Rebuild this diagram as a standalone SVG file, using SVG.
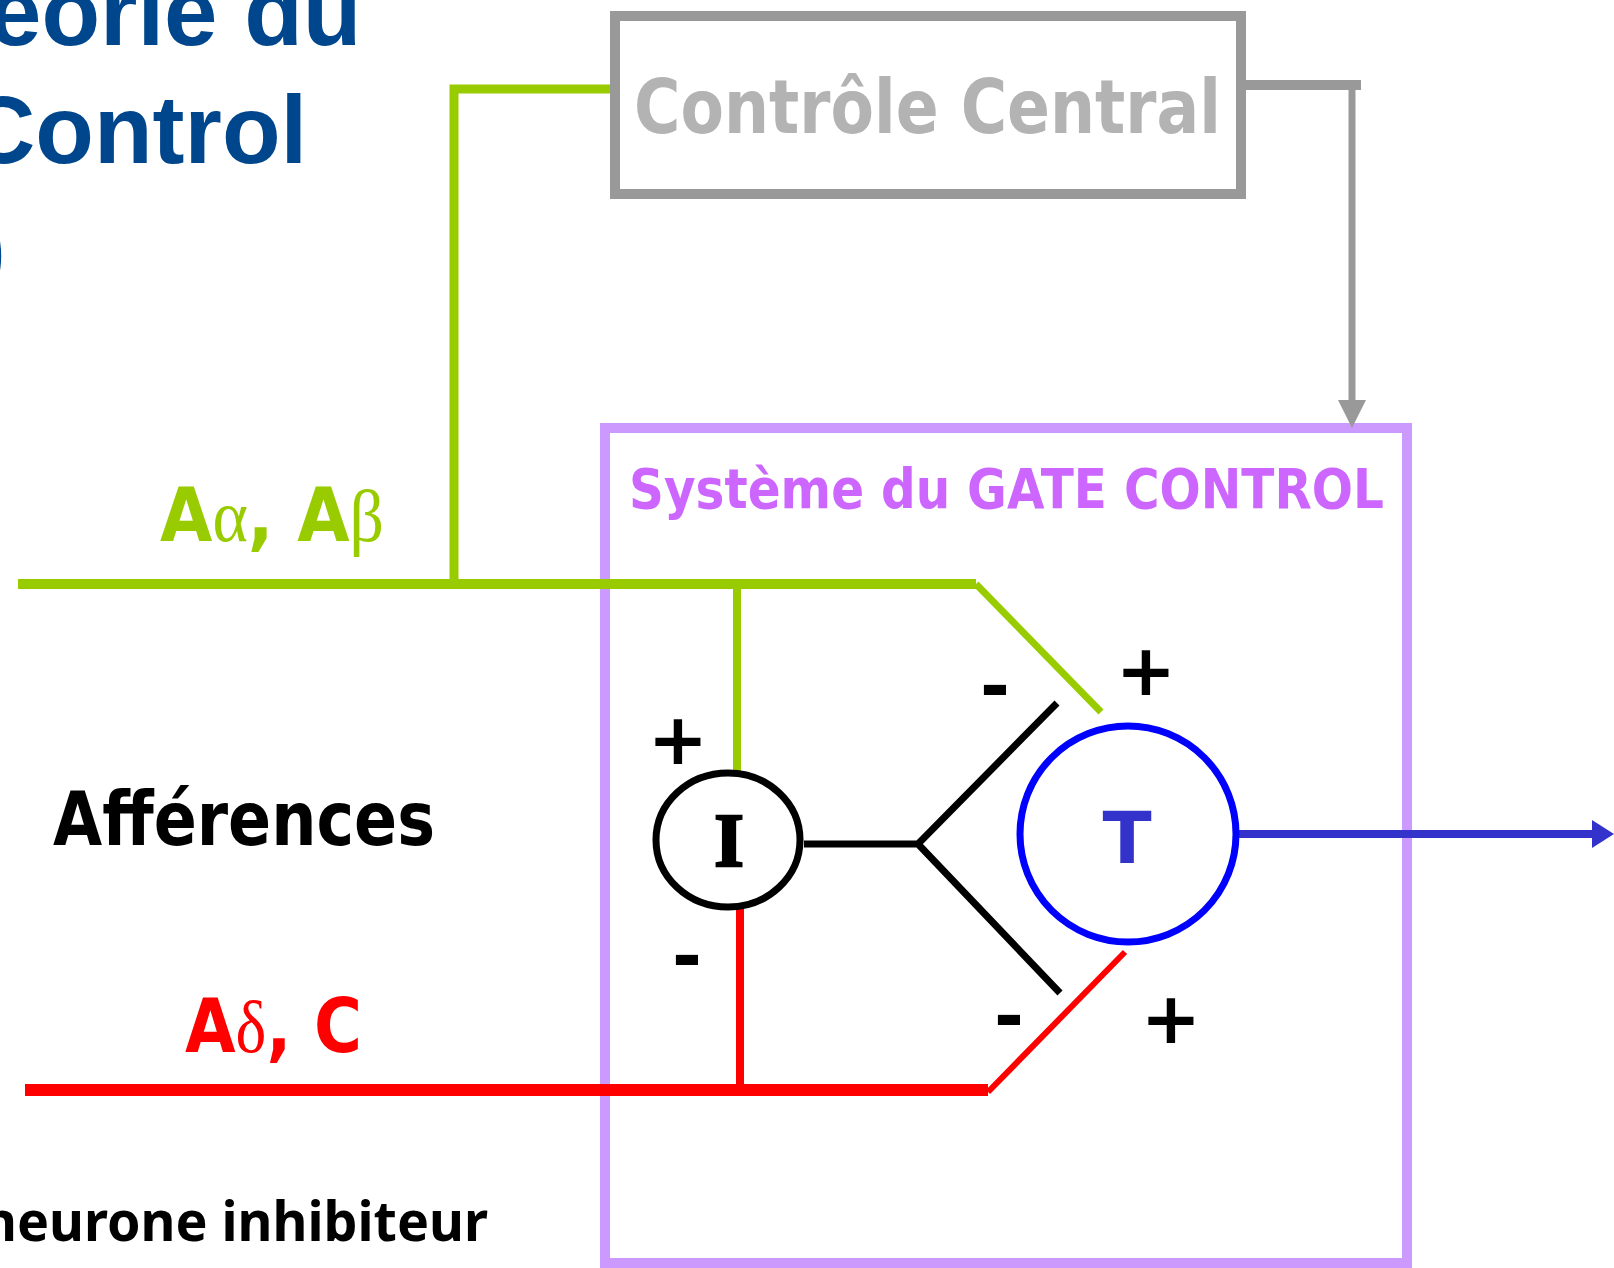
<svg xmlns="http://www.w3.org/2000/svg" width="1614" height="1268" viewBox="0 0 1614 1268">
<style>
.title{font-family:"Liberation Sans",Arial,sans-serif;font-weight:bold;font-size:96px;fill:#00468c}
.v{font-family:"DejaVu Sans","Noto Sans",sans-serif;font-weight:bold}
.g{font-family:"Liberation Serif","Times New Roman",serif;font-weight:normal}
.sign{font-family:"DejaVu Sans",sans-serif;font-weight:bold;font-size:72px;fill:#000;text-anchor:middle}
.ln{fill:none;stroke-linecap:butt;stroke-linejoin:miter}
</style>
<rect width="1614" height="1268" fill="#ffffff"/>

<g id="title">
<text class="title" x="-12" y="45">eorie du</text>
<text class="title" x="-34" y="163">Control</text>
<text class="title" x="-26" y="281">)</text>
</g>

<g id="gate-system">
<rect x="605" y="428" width="802" height="835" fill="none" stroke="#cc99ff" stroke-width="10"/>
<text class="v" x="629" y="508" font-size="55" fill="#cc66ff" textLength="755" lengthAdjust="spacingAndGlyphs">Système du GATE CONTROL</text>
</g>

<g id="connectors">
<path class="ln" d="M615 89 H454 V584" stroke="#99cc00" stroke-width="9"/>
<path class="ln" d="M18 584 H976" stroke="#99cc00" stroke-width="10"/>
<path class="ln" d="M976 584 L1101 712" stroke="#99cc00" stroke-width="7"/>
<path class="ln" d="M737 584 V775" stroke="#99cc00" stroke-width="8"/>
<path class="ln" d="M25 1090 H988" stroke="#ff0000" stroke-width="12"/>
<path class="ln" d="M988 1092 L1125 952" stroke="#ff0000" stroke-width="6"/>
<path class="ln" d="M740 906 V1090" stroke="#ff0000" stroke-width="8"/>
<path class="ln" d="M804 844 H918 L1057 703 M918 844 L1060 993" stroke="#000000" stroke-width="7"/>
<path class="ln" d="M1241 85 H1361" stroke="#999999" stroke-width="10"/>
<path class="ln" d="M1352 85 V402" stroke="#999999" stroke-width="7"/>
<polygon points="1338,400 1366,400 1352,428" fill="#999999"/>
<path class="ln" d="M1238 834 H1596" stroke="#3333cc" stroke-width="8"/>
<polygon points="1592,820 1614,834 1592,848" fill="#3333cc"/>
</g>

<g id="central-control">
<rect x="615" y="16" width="626" height="178" fill="#ffffff" stroke="#999999" stroke-width="10"/>
<text class="v" x="634" y="133" font-size="75" fill="#b3b3b3" textLength="587" lengthAdjust="spacingAndGlyphs">Contrôle Central</text>
</g>

<g id="neuron-I">
<ellipse cx="728" cy="840" rx="72" ry="67" fill="none" stroke="#000000" stroke-width="7"/>
<text x="729" y="866" font-family="Liberation Serif,Times New Roman,serif" font-weight="bold" font-size="76" text-anchor="middle" fill="#000000" stroke="#000000" stroke-width="2.5">I</text>
</g>

<g id="neuron-T">
<ellipse cx="1128" cy="834" rx="108" ry="108" fill="none" stroke="#0000ff" stroke-width="7"/>
<text class="v" x="1127" y="863" font-size="72" text-anchor="middle" fill="#3333cc">T</text>
</g>

<g id="labels">
<text class="v" x="160" y="541" font-size="75" fill="#99cc00" textLength="224" lengthAdjust="spacingAndGlyphs">A<tspan class="g">α</tspan>, A<tspan class="g">β</tspan></text>
<text class="v" x="53" y="845" font-size="75" fill="#000000" textLength="382" lengthAdjust="spacingAndGlyphs">Afférences</text>
<text class="v" x="185" y="1052" font-size="75" fill="#ff0000" textLength="177" lengthAdjust="spacingAndGlyphs">A<tspan class="g">δ</tspan>, C</text>
<text x="-18" y="1241" font-family="Noto Sans,Open Sans,sans-serif" font-weight="bold" font-size="55" fill="#000000" textLength="506" lengthAdjust="spacingAndGlyphs">neurone inhibiteur</text>
</g>

<g id="signs">
<text class="sign" x="1146" y="695">+</text>
<text class="sign" x="995" y="710">-</text>
<text class="sign" x="678" y="764">+</text>
<text class="sign" x="687" y="980">-</text>
<text class="sign" x="1009" y="1040">-</text>
<text class="sign" x="1171" y="1043">+</text>
</g>
</svg>
